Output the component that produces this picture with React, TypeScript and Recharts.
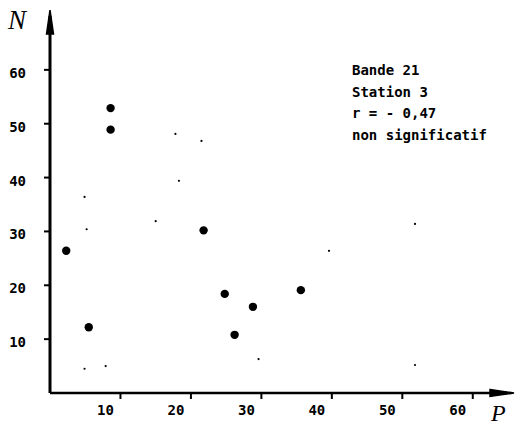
import { ScatterChart, Scatter, XAxis, YAxis } from 'recharts'

// main points (P, N)
const bigP = [8.6, 8.6, 2.3, 5.5, 21.8, 24.8, 26.2, 28.8, 35.6]
const bigN = [52.9, 48.9, 26.4, 12.2, 30.2, 18.4, 10.8, 16.0, 19.1]

// faint specks on the scan
const speckP = [4.9, 17.8, 21.5, 18.3, 15.0, 5.2, 4.9, 7.9, 29.6, 39.6, 51.8, 51.8]
const speckN = [36.4, 48.1, 46.8, 39.4, 31.9, 30.4, 4.5, 5.0, 6.3, 26.4, 31.4, 5.2]

const xTicks = [10, 20, 30, 40, 50, 60]
const yTicks = [10, 20, 30, 40, 50, 60]

const noteLines = ['Bande 21', 'Station 3', 'r = - 0,47', 'non significatif']

const big = bigP.map((p, i) => ({ p, n: bigN[i] }))
const specks = speckP.map((p, i) => ({ p, n: speckN[i] }))

const mono = '"DejaVu Sans Mono", monospace'
const tickStyle = { fontSize: 14, fontWeight: 700, fill: '#000', fontFamily: mono }

export default function App() {
  return (
    <div style={{ position: 'absolute', left: 0, top: 0, width: 515, height: 425, background: '#fff', overflow: 'hidden' }}>
      <ScatterChart width={515} height={425} margin={{ top: 16, right: 7, bottom: 0, left: 0 }}>
        <defs>
          <marker id="arrowHead" markerUnits="userSpaceOnUse" markerWidth={30} markerHeight={12}
            refX={18} refY={5} orient="auto-start-reverse" overflow="visible">
            <path d="M0,1.5 L24,5 L0,8.5 Z" fill="#000" stroke="#000" strokeWidth={1.5} />
          </marker>
        </defs>
        <XAxis
          type="number"
          dataKey="p"
          domain={[0, 65]}
          ticks={xTicks}
          height={32}
          tickSize={6}
          tickMargin={6}
          tick={{ ...tickStyle, dx: -15 }}
          tickLine={{ stroke: '#000', strokeWidth: 2 }}
          axisLine={{ stroke: '#000', strokeWidth: 2.5, markerEnd: 'url(#arrowHead)' }}
        />
        <YAxis
          type="number"
          dataKey="n"
          domain={[0, 70]}
          ticks={yTicks}
          width={50}
          tickSize={6}
          tickMargin={18}
          tick={{ ...tickStyle, dy: 3 }}
          tickLine={{ stroke: '#000', strokeWidth: 2 }}
          axisLine={{ stroke: '#000', strokeWidth: 3, markerStart: 'url(#arrowHead)' }}
        />
        <Scatter
          data={specks}
          isAnimationActive={false}
          shape={(props: any) => <circle cx={props.cx} cy={props.cy} r={1.1} fill="#000" />}
        />
        <Scatter
          data={big}
          isAnimationActive={false}
          shape={(props: any) => <circle cx={props.cx} cy={props.cy} r={4.2} fill="#000" />}
        />
      </ScatterChart>
      <div style={{ position: 'absolute', left: 8, top: 7, fontFamily: '"Liberation Serif", serif', fontStyle: 'italic', fontSize: 27, lineHeight: '27px' }}>
        N
      </div>
      <div style={{ position: 'absolute', left: 491, top: 401, fontFamily: '"Liberation Serif", serif', fontStyle: 'italic', fontSize: 24, lineHeight: '24px' }}>
        P
      </div>
      <div style={{ position: 'absolute', left: 352, top: 60, fontFamily: mono, fontWeight: 700, fontSize: 14, lineHeight: '21.5px', whiteSpace: 'pre' }}>
        {noteLines.map((l) => (
          <div key={l}>{l}</div>
        ))}
      </div>
    </div>
  )
}
